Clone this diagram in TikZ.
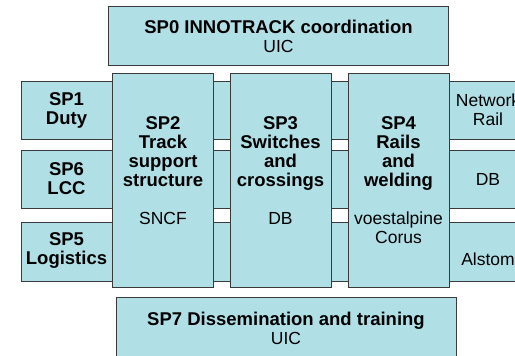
\documentclass[tikz,border=0pt]{standalone}
\usepackage{fontspec}
\setmainfont{Liberation Sans}
\usepackage{tikz}
\definecolor{spblue}{HTML}{B0E0E6}
\definecolor{spline}{HTML}{3A3A3A}
\newcommand{\bt}[1]{{\fontsize{18.5}{19}\selectfont\bfseries #1}}

\begin{document}
\begin{tikzpicture}[x=1pt, y=-1pt,
    box/.style={draw=spline, line width=1pt, fill=spblue, inner sep=0pt, anchor=north west,
      align=center, font=\fontsize{17.5}{19}\selectfont},
    lbl/.style={align=center, inner sep=0pt, font=\fontsize{17.5}{19}\selectfont}]
      \useasboundingbox (0,0) rectangle (515,356);
      \clip (0,0) rectangle (515,356);

      \node[box, minimum width=340pt, minimum height=59pt] (sp0) at (108,6)
        {\bt{SP0 INNOTRACK coordination}\\UIC};

      \node[box, minimum width=560pt, minimum height=58pt] (bar1) at (21,81) {};
      \node[box, minimum width=560pt, minimum height=58pt] (bar6) at (21,150) {};
      \node[box, minimum width=560pt, minimum height=59pt] (bar5) at (21,222) {};

      \node[box, minimum width=101pt, minimum height=214pt] (sp2) at (112,73)
        {\bt{SP2}\\\bt{Track}\\\bt{support}\\\bt{structure}\\[19pt]SNCF\\\mbox{}};
      \node[box, minimum width=101pt, minimum height=214pt] (sp3) at (229.5,73)
        {\bt{SP3}\\\bt{Switches}\\\bt{and}\\\bt{crossings}\\[19pt]DB\\\mbox{}};
      \node[box, minimum width=101pt, minimum height=214pt] (sp4) at (347.5,73)
        {\bt{SP4}\\\bt{Rails}\\\bt{and}\\\bt{welding}\\[19pt]voestalpine\\Corus};

      \node[box, minimum width=340pt, minimum height=62pt] (sp7) at (115.5,297)
        {\bt{SP7 Dissemination and training}\\UIC};

      \node[lbl] (sp1) at (66.5,110) {\bt{SP1}\\\bt{Duty}};
      \node[lbl] (sp6) at (66.5,179) {\bt{SP6}\\\bt{LCC}};
      \node[lbl] (sp5) at (66.5,250.5) {\bt{SP5}\\\bt{Logistics}};

      \node[lbl] (nr) at (488,109.5) {Network\\Rail};
      \node[lbl] (db) at (488,179) {DB};
      \node[lbl] (al) at (488,259) {Alstom};
    \end{tikzpicture}
\end{document}
